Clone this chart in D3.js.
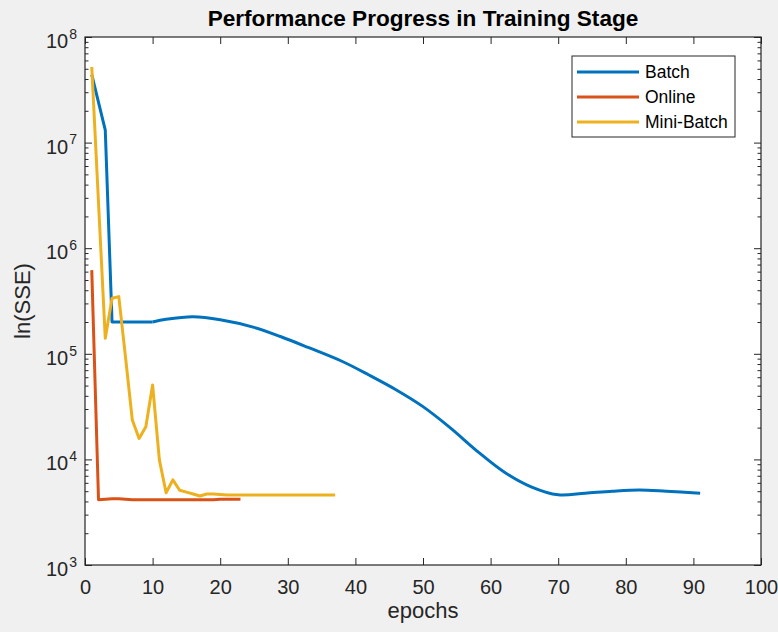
<!DOCTYPE html>
<html lang="en">
<head>
    <meta charset="UTF-8">
    <title>Performance Progress in Training Stage</title>
    <script src="https://d3js.org/d3.v7.min.js"></script>
    <style>
        body { margin: 0; background: #f0f0f0; }
        svg { display: block; font-family: "Liberation Sans", Arial, sans-serif; }
        .axis path { stroke: none; }
        .axis line { stroke: #262626; stroke-width: 1; }
        .axis text { fill: #262626; font-size: 20px; }
    </style>
</head>
<body>
    <svg width="778" height="632"></svg>

    <script>
        // Batch values
        const batchEpochs = [1, 3, 4, 10, 12, 16, 20, 25, 29, 33, 38, 42, 46, 50, 54, 58, 62, 66, 70, 74, 78, 82, 86, 91];
        const batchSSE = [4.4e7, 1.31e7, 2.0e5, 2.0e5, 2.12e5, 2.24e5, 2.1e5, 1.78e5, 1.45e5, 1.15e5, 8.5e4, 6.3e4, 4.57e4,
            3.16e4, 2.0e4, 1.2e4, 7.6e3, 5.5e3, 4.62e3, 4.79e3, 5.0e3, 5.13e3, 5.0e3, 4.79e3];

        // Online
        const onlineEpochs = d3.range(1, 24);
        const onlineSSE = [6.2e5, 4.15e3, 4.2e3, 4.25e3, 4.25e3, 4.2e3, 4.15e3, 4.15e3, 4.15e3, 4.15e3, 4.15e3, 4.15e3,
            4.15e3, 4.15e3, 4.15e3, 4.15e3, 4.15e3, 4.15e3, 4.15e3, 4.2e3, 4.2e3, 4.2e3, 4.2e3];

        // Mini-Batch
        const miniEpochs = [1].concat(d3.range(3, 38));
        const miniSSE = [5.2e7, 1.4e5, 3.36e5, 3.48e5, 9.2e4, 2.36e4, 1.58e4, 2.04e4, 5.07e4, 9.9e3, 4.84e3, 6.4e3,
            5.1e3, 4.9e3, 4.7e3, 4.5e3, 4.7e3, 4.7e3, 4.65e3, 4.6e3, 4.6e3, 4.6e3, 4.6e3, 4.6e3, 4.6e3, 4.6e3,
            4.6e3, 4.6e3, 4.6e3, 4.6e3, 4.6e3, 4.6e3, 4.6e3, 4.6e3, 4.6e3, 4.6e3];

        const seriesNames = ["Batch", "Online", "Mini-Batch"];
        const seriesColors = ["#0072bd", "#d95319", "#edb120"];
        const xTicks = d3.range(0, 101, 10);
        const yTicks = [1e3, 1e4, 1e5, 1e6, 1e7, 1e8];

        const batchPts = batchEpochs.map((e, i) => [e, batchSSE[i]]);
        // batch: straight segments in the first epochs, smooth afterwards
        const paths = [
            { color: seriesColors[0], pts: batchPts.filter(d => d[0] <= 10), curve: d3.curveLinear },
            { color: seriesColors[0], pts: batchPts.filter(d => d[0] >= 10), curve: d3.curveCatmullRom.alpha(0.5) },
            { color: seriesColors[1], pts: onlineEpochs.map((e, i) => [e, onlineSSE[i]]), curve: d3.curveLinear },
            { color: seriesColors[2], pts: miniEpochs.map((e, i) => [e, miniSSE[i]]), curve: d3.curveLinear }
        ];

        const margin = { top: 37, right: 17, bottom: 67, left: 85 };
        const width = 778, height = 632;
        const plotW = width - margin.left - margin.right;
        const plotH = height - margin.top - margin.bottom;

        const svg = d3.select("svg");

        const x = d3.scaleLinear().domain([0, 100]).range([margin.left, width - margin.right]);
        const y = d3.scaleLog().domain([1e3, 1e8]).range([height - margin.bottom, margin.top]);

        // plot area
        svg.append("rect")
            .attr("x", margin.left).attr("y", margin.top)
            .attr("width", plotW).attr("height", plotH)
            .attr("fill", "#fff");

        // x axes (bottom with labels, top ticks only)
        svg.append("g")
            .attr("class", "axis")
            .attr("transform", `translate(0,${height - margin.bottom})`)
            .call(d3.axisBottom(x).tickValues(xTicks).tickSize(-7).tickPadding(15).tickFormat(d3.format("d")));
        svg.append("g")
            .attr("class", "axis")
            .attr("transform", `translate(0,${margin.top})`)
            .call(d3.axisTop(x).tickValues(xTicks).tickSize(-7).tickFormat(""));

        // minor log ticks
        const minor = y.ticks().filter(v => !yTicks.includes(v));
        svg.append("g")
            .attr("class", "axis")
            .attr("transform", `translate(${margin.left},0)`)
            .call(d3.axisLeft(y).tickValues(minor).tickSize(-3.5).tickFormat(""));
        svg.append("g")
            .attr("class", "axis")
            .attr("transform", `translate(${width - margin.right},0)`)
            .call(d3.axisRight(y).tickValues(minor).tickSize(-3.5).tickFormat(""));

        // major y ticks
        const yAxisL = svg.append("g")
            .attr("class", "axis")
            .attr("transform", `translate(${margin.left},0)`)
            .call(d3.axisLeft(y).tickValues(yTicks).tickSize(-7).tickFormat(""));
        svg.append("g")
            .attr("class", "axis")
            .attr("transform", `translate(${width - margin.right},0)`)
            .call(d3.axisRight(y).tickValues(yTicks).tickSize(-7).tickFormat(""));

        yAxisL.selectAll(".tick text")
            .attr("dy", "0.52em")
            .attr("x", -8)
            .attr("text-anchor", "end")
            .each(function (d) {
                const t = d3.select(this);
                t.append("tspan").text("10");
                t.append("tspan")
                    .attr("dx", 1)
                    .attr("dy", "-0.65em")
                    .style("font-size", "14px")
                    .text(Math.round(Math.log10(d)));
            });

        // box
        svg.append("rect")
            .attr("x", margin.left).attr("y", margin.top)
            .attr("width", plotW).attr("height", plotH)
            .attr("fill", "none")
            .attr("stroke", "#262626")
            .attr("stroke-width", 1.2);

        // lines
        paths.forEach(s => {
            const line = d3.line()
                .x(d => x(d[0]))
                .y(d => y(d[1]))
                .curve(s.curve);
            svg.append("path")
                .datum(s.pts)
                .attr("fill", "none")
                .attr("stroke", s.color)
                .attr("stroke-width", 3)
                .attr("stroke-linejoin", "round")
                .attr("d", line);
        });

        // title
        svg.append("text")
            .attr("x", (margin.left + width - margin.right) / 2)
            .attr("y", 26)
            .attr("text-anchor", "middle")
            .style("font-size", "22.6px")
            .style("font-weight", "bold")
            .attr("fill", "#000")
            .text("Performance Progress in Training Stage");

        // axis labels
        svg.append("text")
            .attr("x", (margin.left + width - margin.right) / 2)
            .attr("y", 618)
            .attr("text-anchor", "middle")
            .style("font-size", "22px")
            .attr("fill", "#262626")
            .text("epochs");

        svg.append("text")
            .attr("transform", `translate(30,${(margin.top + height - margin.bottom) / 2}) rotate(-90)`)
            .attr("text-anchor", "middle")
            .style("font-size", "22px")
            .attr("fill", "#262626")
            .text("ln(SSE)");

        // legend
        const legend = svg.append("g").attr("transform", "translate(572,56)");
        legend.append("rect")
            .attr("width", 163).attr("height", 81)
            .attr("fill", "#fff")
            .attr("stroke", "#262626")
            .attr("stroke-width", 1);
        seriesNames.forEach((n, i) => {
            const ly = 16 + i * 25;
            legend.append("line")
                .attr("x1", 5).attr("x2", 67)
                .attr("y1", ly).attr("y2", ly)
                .attr("stroke", seriesColors[i])
                .attr("stroke-width", 3);
            legend.append("text")
                .attr("x", 73).attr("y", ly)
                .attr("dy", "0.35em")
                .style("font-size", "17.5px")
                .attr("fill", "#000")
                .text(n);
        });
    </script>
</body>
</html>
